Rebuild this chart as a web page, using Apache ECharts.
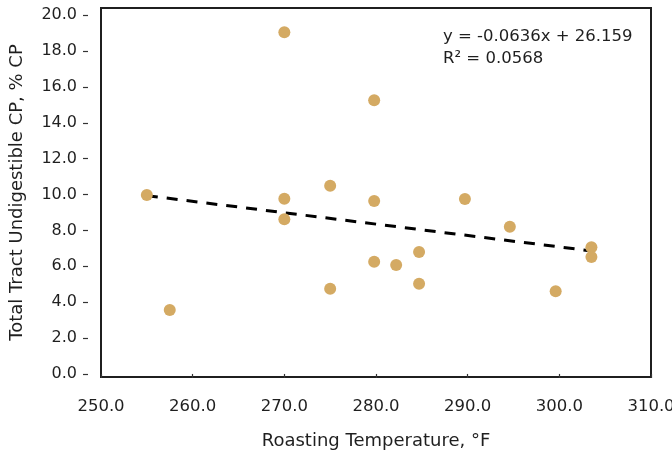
<!DOCTYPE html>
<html>
<head>
<meta charset="utf-8">
<script src="https://cdn.jsdelivr.net/npm/echarts@6/dist/echarts.min.js"></script>
<style>
  html,body{margin:0;padding:0;background:#fff;}
  #chart{width:672px;height:456px;}
</style>
</head>
<body>
<div id="chart"></div>
<script>
  // Roasting temperature (°F) vs total tract undigestible CP (% CP)
  const roastTemp = [255.0, 257.5, 270.0, 270.0, 270.0, 275.0, 275.0, 279.8, 279.8, 279.8,
                     282.2, 284.7, 284.7, 289.7, 294.6, 299.6, 303.5, 303.5];
  const undigCP   = [9.97, 3.57, 19.05, 9.77, 8.62, 10.49, 4.75, 15.26, 9.64, 6.26,
                     6.07, 6.80, 5.03, 9.75, 8.21, 4.61, 7.06, 6.52];
  // linear trend line end points
  const trendX = [255.0, 303.5];
  const trendY = [9.94, 6.86];
  const yTicks = [0, 2, 4, 6, 8, 10, 12, 14, 16, 18, 20];
  const eqLines = ['y = -0.0636x + 26.159', 'R\u00b2 = 0.0568'];

  const FONT = "'DejaVu Sans', sans-serif";
  const DOT = '#d4aa63';
  const INK = '#1f1f1f';

  const c = echarts.init(document.getElementById('chart'), null, {renderer:'canvas'});
  c.setOption({
    backgroundColor:'#ffffff',
    animation:false,
    grid:{left:101, right:21, top:8, bottom:79, show:true, borderColor:INK, borderWidth:2,
      backgroundColor:'transparent', containLabel:false, outerBoundsMode:'none'},
    xAxis:{type:'value', min:250, max:310, interval:10, offset:12,
      name:'Roasting Temperature, \u00b0F', nameLocation:'middle', nameGap:43,
      nameTextStyle:{color:INK, fontFamily:FONT, fontSize:18},
      axisLine:{show:false}, splitLine:{show:false},
      axisTick:{show:true, length:4, lineStyle:{color:'#333', width:1.2}},
      axisLabel:{color:INK, fontFamily:FONT, fontSize:16.5, margin:9,
        formatter:v=>v.toFixed(1)}},
    yAxis:{type:'value', min:-0.17, max:20.4, offset:13,
      name:'Total Tract Undigestible CP, % CP', nameLocation:'middle', nameGap:62,
      nameTextStyle:{color:INK, fontFamily:FONT, fontSize:18},
      axisLine:{show:false}, splitLine:{show:false},
      axisTick:{show:true, length:5, customValues:yTicks, lineStyle:{color:'#333', width:1.2}},
      axisLabel:{color:INK, fontFamily:FONT, fontSize:16, margin:11, customValues:yTicks,
        formatter:v=>v.toFixed(1)}},
    graphic:[{type:'text', left:443, top:26,
      style:{text:eqLines.join('\n'), fill:INK, font:"16.5px " + FONT, lineHeight:22}}],
    series:[
      {type:'line', data:trendX.map((x,i)=>[x, trendY[i]]), showSymbol:false, z:1,
        lineStyle:{color:'#000', width:3, type:[11,9]}},
      {type:'scatter', data:roastTemp.map((x,i)=>[x, undigCP[i]]), symbolSize:12, z:2,
        itemStyle:{color:DOT, opacity:1}}
    ]
  });
</script>
</body>
</html>
